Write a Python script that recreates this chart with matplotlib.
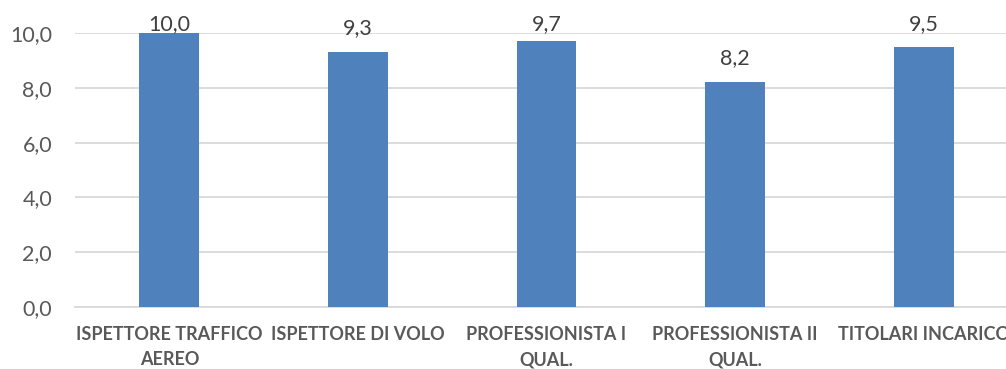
import matplotlib
matplotlib.use("Agg")
import matplotlib.pyplot as plt
from matplotlib.ticker import FixedLocator

categories = [
    "ISPETTORE TRAFFICO\nAEREO",
    "ISPETTORE DI VOLO",
    "PROFESSIONISTA I\nQUAL.",
    "PROFESSIONISTA II\nQUAL.",
    "TITOLARI INCARICO",
]
values = [10.0, 9.3, 9.7, 8.2, 9.5]
y_ticks = [0, 2, 4, 6, 8, 10]

BAR = "#4F81BD"
GRID = "#D9D9D9"
TEXT = "#595959"
FONT = ["Lato", "DejaVu Sans"]

W, H, DPI = 1006, 369, 100
fig = plt.figure(figsize=(W / DPI, H / DPI), dpi=DPI)
# plot area runs past the right edge of the canvas
ax = fig.add_axes([75 / W, 1 - 307 / H, 943 / W, 274 / H])

x = list(range(len(values)))
ax.bar(x, values, width=0.317, color=BAR, zorder=3)
ax.set_xlim(-0.5, len(values) - 0.5)
ax.set_ylim(0, 10)

ax.yaxis.set_major_locator(FixedLocator(y_ticks))
ax.set_yticklabels([f"{v:.1f}".replace(".", ",") for v in y_ticks],
                   family=FONT, fontsize=15.5, color=TEXT)
ax.set_xticks(x)
ax.set_xticklabels(categories, family=FONT, fontsize=13, fontweight="bold",
                   color=TEXT, linespacing=1.55)
ax.tick_params(axis="both", length=0)
ax.tick_params(axis="y", pad=16.5)
ax.tick_params(axis="x", pad=14)

ax.grid(axis="y", color=GRID, linewidth=1.3, zorder=0)
for s in ["top", "right", "left"]:
    ax.spines[s].set_visible(False)
ax.spines["bottom"].set_color(GRID)
ax.spines["bottom"].set_linewidth(1.3)

# value labels sit above each bar, pushed down if they would leave the canvas
gap_px = 18
top_baseline_px = H - 30
for xi, v in zip(x, values):
    bar_top = ax.transData.transform((xi, v))[1]
    baseline = min(bar_top + gap_px, top_baseline_px)
    off_pt = (baseline - bar_top) * 72 / DPI
    ax.annotate(f"{v:.1f}".replace(".", ","), (xi, v), xytext=(0, off_pt),
                textcoords="offset points", ha="center", va="baseline",
                family=FONT, fontsize=15.5, color="#404040", annotation_clip=False)

fig.savefig("out.png", dpi=DPI)
